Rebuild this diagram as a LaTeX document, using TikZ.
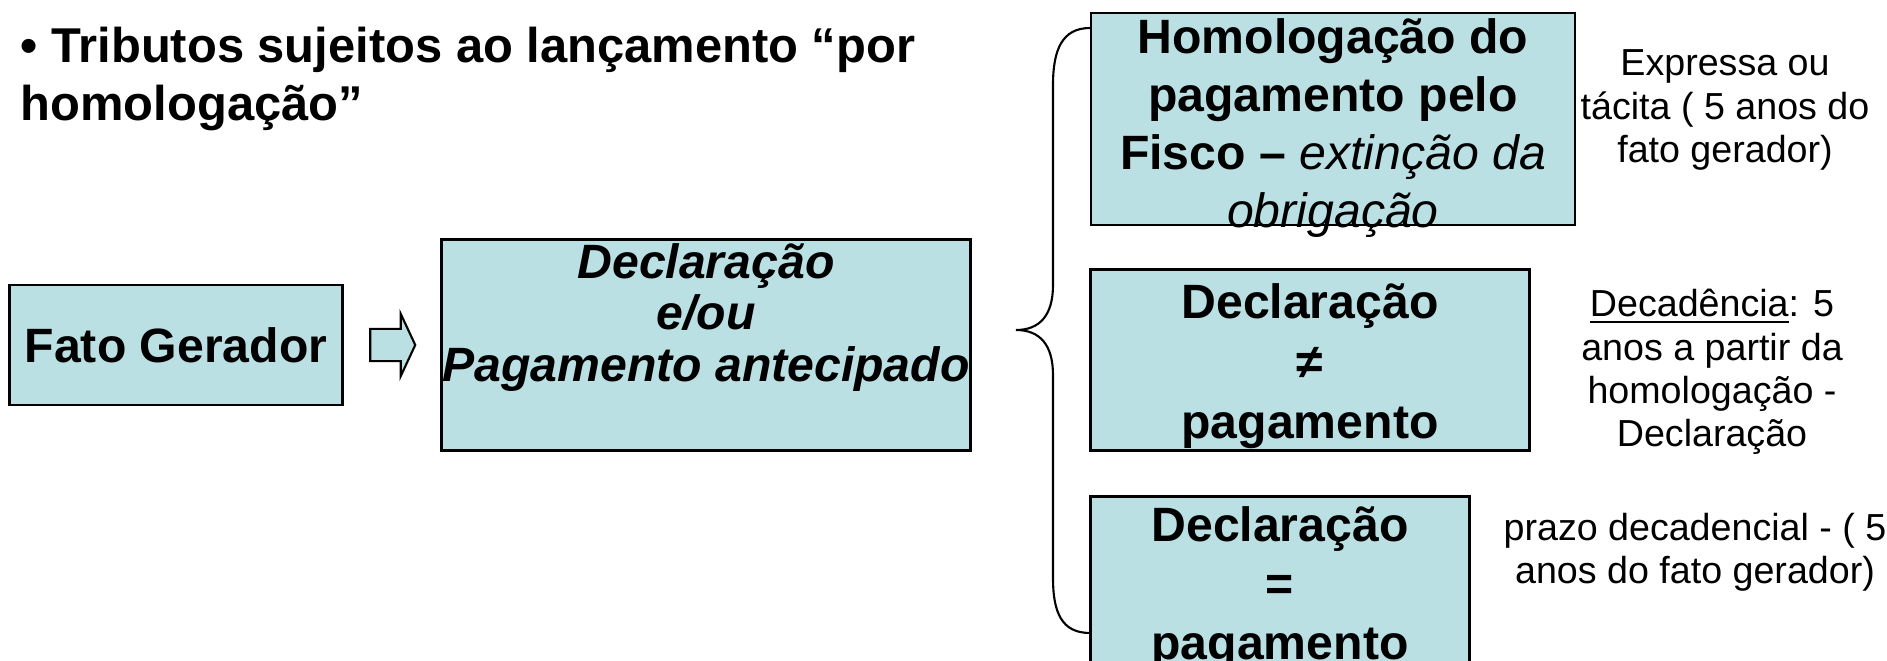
\documentclass[tikz,border=0pt]{standalone}
\usepackage{fontspec}
\setmainfont{Liberation Sans}
\usetikzlibrary{shapes.arrows}
\definecolor{caixa}{RGB}{187,224,227}

\begin{document}
\begin{tikzpicture}[x=0.01cm,y=-0.01cm]
 \tikzset{box/.style = {draw,line width=0.7pt,fill=caixa,inner sep=0pt,align=center,font=\bfseries\fontsize{13.7}{16.5}\selectfont}}
 \tikzset{rotulo/.style = {align=center,inner sep=0pt,font=\bfseries\fontsize{13.7}{16.5}\selectfont}}
 \tikzset{nota/.style = {align=center,inner sep=0pt,font=\fontsize{10.7}{12.3}\selectfont}}
 \tikzset{chave/.style = {line width=0.6pt}}
 \useasboundingbox (0,0) rectangle (1887,661);
 \node[anchor=north west,align=left,inner sep=0pt,font=\bfseries\fontsize{13.9}{16.6}\selectfont] (titulo) at (20,26) {• Tributos sujeitos ao lançamento “por\\homologação”};
 \node[box,minimum width=3.33cm,minimum height=1.2cm] (fato) at (176,345) {Fato Gerador};
 \node[single arrow,draw,line width=0.6pt,fill=caixa,inner xsep=0pt,inner ysep=0.15cm,minimum height=0.45cm,single arrow head extend=0.15cm,single arrow tip angle=130] (seta) at (389,345) {};
 \node[box,minimum width=5.29cm,minimum height=2.11cm] (decl) at (706,345) {};
 \node[rotulo,anchor=north,font=\bfseries\itshape\fontsize{13.7}{14.6}\selectfont] (decltxt) at (706,243) {Declaração\\e/ou\\Pagamento antecipado};
 \node[box,minimum width=4.84cm,minimum height=2.12cm] (homol) at (1333,119) {};
 \node[rotulo] (homoltxt) at (1333,128) {Homologação do\\pagamento pelo\\Fisco – {\mdseries\itshape extinção da}\\{\mdseries\itshape obrigação}};
 \node[box,minimum width=4.39cm,minimum height=1.81cm] (difer) at (1310,360) {};
 \node[rotulo,font=\bfseries\fontsize{13.7}{17.1}\selectfont] (difertxt) at (1310,366) {Declaração\\≠\\pagamento};
 \node[box,minimum width=3.79cm,minimum height=1.81cm] (igual) at (1280,587) {};
 \node[rotulo,font=\bfseries\fontsize{13.7}{16.8}\selectfont] (igualtxt) at (1280,588) {Declaração\\=\\pagamento};
 \node[nota] (expressa) at (1725,110) {Expressa ou\\tácita ( 5 anos do\\fato gerador)};
 \node[nota] (decad) at (1712,372) {\underline{Decadência}: 5\\anos a partir da\\homologação -\\Declaração};
 \node[nota] (prazo) at (1695,552) {prazo decadencial - ( 5\\anos do fato gerador)};
 \draw[chave] (1090,28) .. controls (1062,28) and (1053,50) .. (1053,85) -- (1053,285)
   .. controls (1053,315) and (1040,330) .. (1016,330)
   .. controls (1040,330) and (1053,345) .. (1053,375) -- (1053,578)
   .. controls (1053,613) and (1062,633) .. (1090,633);
\end{tikzpicture}
\end{document}
